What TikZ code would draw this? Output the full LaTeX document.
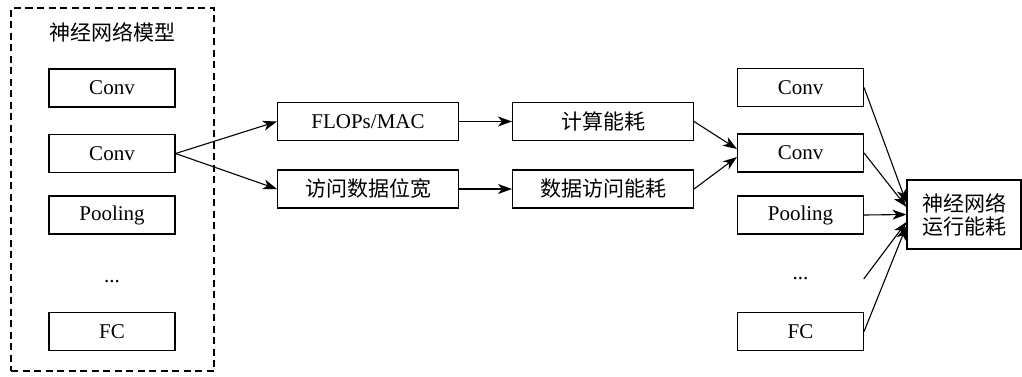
\documentclass[tikz,border=0pt]{standalone}
\usepackage{fontspec}
\setmainfont{Liberation Serif}
\newfontfamily\cjk{Noto Sans CJK SC}
\usetikzlibrary{arrows.meta}
\begin{document}
\begin{tikzpicture}[x=1pt,y=-1pt,
  every node/.style={font=\fontsize{21}{25}\selectfont, inner sep=0pt},
  blk/.style={draw, line width=1.1pt, minimum width=126pt, minimum height=38pt},
  mid/.style={draw, line width=1.1pt, minimum width=181pt, minimum height=38pt},
  plain/.style={minimum width=126pt, minimum height=38pt},
  arr/.style={line width=1.1pt, -{Stealth[length=14pt,width=10pt,inset=4pt]}}]
\useasboundingbox (0,0) rectangle (1022,376);
% dashed container
\node[draw, dash pattern=on 7pt off 4.5pt, line width=1.1pt, minimum width=203pt, minimum height=363pt] (grp) at (112.5,189.5) {};
\node (title) at (112,32) {\cjk 神经网络模型};
% left column
\node[blk] (l1) at (112,88) {Conv};
\node[blk] (l2) at (112,153.5) {Conv};
\node[blk] (l3) at (112,215) {Pooling};
\node[plain] (l4) at (112,282) {...};
\node[blk] (l5) at (112,331.5) {FC};
% middle columns
\node[mid] (m1) at (368,121.5) {FLOPs/MAC};
\node[mid] (m2) at (368,189) {\cjk 访问数据位宽};
\node[mid] (n1) at (603,121.5) {\cjk 计算能耗};
\node[mid] (n2) at (603,189) {\cjk 数据访问能耗};
% right column
\node[blk] (r1) at (800.5,87.5) {Conv};
\node[blk] (r2) at (800.5,153) {Conv};
\node[blk] (r3) at (800.5,215) {Pooling};
\node[plain] (r4) at (800.5,279) {...};
\node[blk] (r5) at (800.5,331.5) {FC};
% final
\node[draw, line width=1.1pt, minimum width=114pt, minimum height=69pt, align=center] (fin) at (964,214.5) {\cjk 神经网络\\[-2pt]\cjk 运行能耗};
% arrows
\draw[arr] (l2.east) -- (m1.west);
\draw[arr] (l2.east) -- (m2.west);
\draw[arr] (m1.east) -- (n1.west);
\draw[arr] (m2.east) -- (n2.west);
\draw[arr] (n1.east) -- ([yshift=4pt]r2.west);
\draw[arr] (n2.east) -- ([yshift=-4pt]r2.west);
\draw[arr] (r1.east) -- ([yshift=11.5pt]fin.west);
\draw[arr] (r2.east) -- ([yshift=7.5pt]fin.west);
\draw[arr] (r3.east) -- (fin.west);
\draw[arr] (r4.east) -- ([yshift=-7.5pt]fin.west);
\draw[arr] (r5.east) -- ([yshift=-11.5pt]fin.west);
\end{tikzpicture}
\end{document}
